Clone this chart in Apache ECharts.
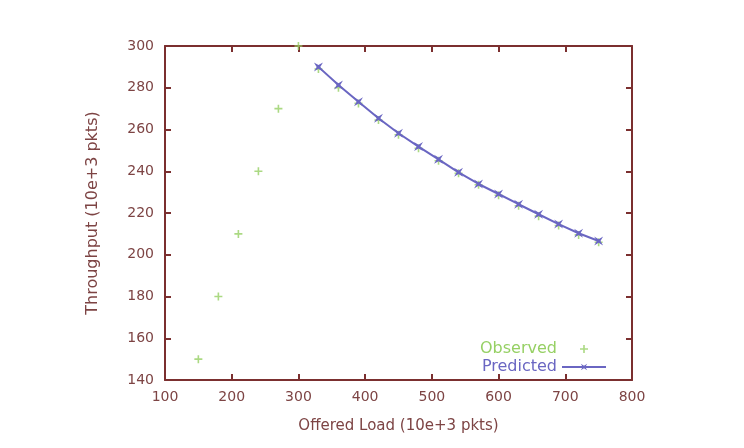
<!DOCTYPE html>
<html><head><meta charset="utf-8">
<script src="https://cdn.jsdelivr.net/npm/echarts@6/dist/echarts.min.js"></script>
<style>html,body{margin:0;padding:0;background:#fff}#c{width:744px;height:448px}</style>
</head><body><div id="c"></div>
<script>
var obsX = [150,180,210,240,270,300,330,360,390,420,450,480,510,540,570,600,630,660,690,720,750];
var obsY = [150,180,210,240,270,300,289,280,272.5,264.5,257.5,251,245,239,233.5,228.5,223.5,218.5,214,209.5,206];
var predX = [330,360,390,420,450,480,510,540,570,600,630,660,690,720,750];
var predY = [290,281.3,273.3,265.4,258.2,251.8,245.7,239.5,233.9,229.1,224.2,219.4,214.7,210.3,206.6];
var xTitle = 'Offered Load (10e+3 pkts)';
var yTitle = 'Throughput (10e+3 pkts)';
var names = ['Observed','Predicted'];

var axisCol = '#7b2f2f';
var txtCol = '#7d4444';
var green = '#96d064';
var blue = '#6a66c2';
var font = 'DejaVu Sans';
var plusPath = 'path://M4,0h2v4h4v2h-4v4h-2v-4h-4v-2h4z';
var xPath = 'path://M0,0L5,3L10,0L7,5L10,10L5,7L0,10L3,5Z';

function zip(a,b){return a.map(function(v,i){return [v,b[i]];});}
var axisBase = {
  axisLine:{show:true,lineStyle:{color:axisCol,width:2}},
  axisTick:{show:true,inside:true,length:6,lineStyle:{color:axisCol,width:2}},
  splitLine:{show:false}
};
var chart = echarts.init(document.getElementById('c'));
chart.setOption({
  animation:false,
  backgroundColor:'#fff',
  grid:{left:165,right:112,top:46,bottom:68},
  legend:{
    orient:'vertical', right:132, top:336, align:'right',
    itemWidth:44, itemHeight:8, itemGap:2,
    data:[{name:names[0],textStyle:{color:green}},{name:names[1],textStyle:{color:blue}}],
    textStyle:{fontFamily:font,fontSize:16}
  },
  xAxis:[
    Object.assign({type:'value',min:100,max:800,interval:100,position:'bottom',
      name:xTitle,nameLocation:'middle',nameGap:39,
      nameTextStyle:{color:txtCol,fontFamily:font,fontSize:15},
      axisLabel:{color:txtCol,fontFamily:font,fontSize:14,margin:10}},axisBase),
    Object.assign({type:'value',min:100,max:800,interval:100,position:'top',axisLabel:{show:false}},axisBase)
  ],
  yAxis:[
    Object.assign({type:'value',min:140,max:300,interval:20,position:'left',
      name:yTitle,nameLocation:'middle',nameGap:64,
      nameTextStyle:{color:txtCol,fontFamily:font,fontSize:16},
      axisLabel:{color:txtCol,fontFamily:font,fontSize:14,margin:11}},axisBase),
    Object.assign({type:'value',min:140,max:300,interval:20,position:'right',axisLabel:{show:false}},axisBase)
  ],
  series:[
    {name:names[0],type:'scatter',data:zip(obsX,obsY),symbol:plusPath,symbolSize:8,
     itemStyle:{color:green},z:2},
    {name:names[1],type:'line',data:zip(predX,predY),symbol:xPath,symbolSize:9,showSymbol:true,
     lineStyle:{color:blue,width:2},itemStyle:{color:blue},z:3}
  ]
});
</script></body></html>
